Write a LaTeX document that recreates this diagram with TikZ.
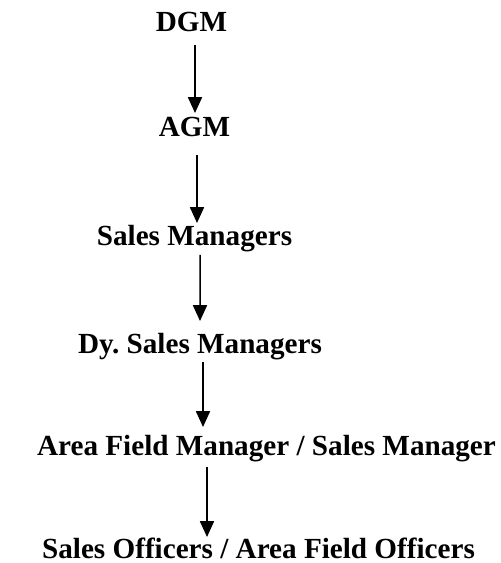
\documentclass[tikz,border=0pt]{standalone}
\usepackage{fontspec}
\setmainfont{Liberation Serif}
\usetikzlibrary{arrows.meta,calc}
\tikzset{post/.style={font=\bfseries\fontsize{16.6}{19}\selectfont, inner sep=0pt, anchor=base}}
\tikzset{dnarr/.style={line width=0.85pt, -{Triangle[length=9pt,width=8pt]}}}

\begin{document}
\begin{tikzpicture}[x=0.02cm, y=-0.02cm]
\useasboundingbox (0,0) rectangle (500,563);
\node (dgm) at (191.5,32) [post] {DGM};
\node (agm) at (194.5,137) [post] {AGM};
\node (sm) at (194.5,246) [post] {Sales Managers};
\node (dsm) at (200,353) [post] {Dy.\ Sales Managers};
\node (afm) at (266.5,455) [post] {Area Field Manager / Sales Manager};
\node (sof) at (258.5,558) [post] {Sales Officers / Area Field Officers};
\draw[dnarr] ($(dgm.base)+(3.5,13)$) -- ($(agm.base)+(0.5,-24)$);
\draw[dnarr] ($(agm.base)+(2.5,18)$) -- ($(sm.base)+(2.5,-23)$);
\draw[dnarr] ($(sm.base)+(5.5,9)$) -- ($(dsm.base)+(0,-32)$);
\draw[dnarr] ($(dsm.base)+(3,9)$) -- ($(afm.base)+(-63.5,-28)$);
\draw[dnarr] ($(afm.base)+(-59.5,12)$) -- ($(sof.base)+(-51.5,-21)$);
\end{tikzpicture}
\end{document}
